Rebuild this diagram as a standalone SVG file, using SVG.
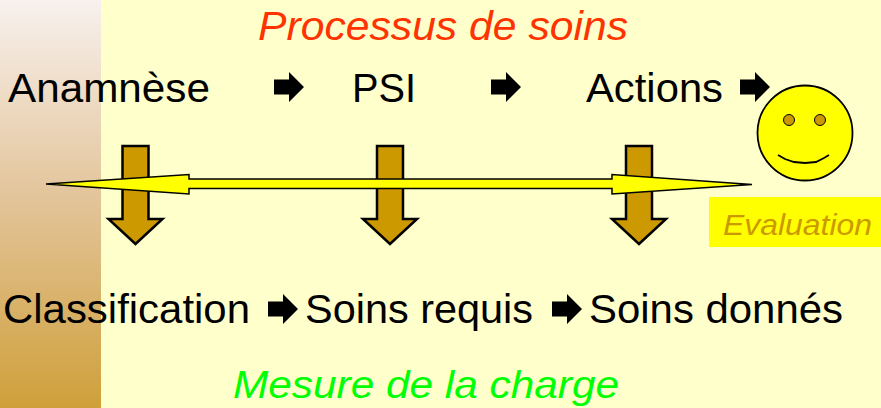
<svg xmlns="http://www.w3.org/2000/svg" width="881" height="408" viewBox="0 0 881 408">
  <defs>
    <linearGradient id="strip" x1="0" y1="0" x2="0" y2="1">
      <stop offset="0" stop-color="#F8F1EE"/>
      <stop offset="0.5" stop-color="#E2C397"/>
      <stop offset="1" stop-color="#CFA03A"/>
    </linearGradient>
    <polygon id="blk" points="0,-7.5 15,-7.5 15,-15 30,0 15,15 15,7.5 0,7.5"/>
    <polygon id="down" points="-13,146 13,146 13,219 27,219 0,244 -27,219 -13,219"/>
  </defs>
  <style>
    .t { font-family: "Liberation Sans", Arial, sans-serif; font-size: 41px; fill: #000; }
    .ti { font-family: "Liberation Sans", Arial, sans-serif; font-style: italic; }
    .down { fill: #CC9900; stroke: #000; stroke-width: 2.5; stroke-linejoin: miter; }
    .blk { fill: #000; }
  </style>
  <rect x="0" y="0" width="881" height="408" fill="#FFFFCC"/>
  <rect x="0" y="0" width="101" height="408" fill="url(#strip)"/>

  <g id="title">
    <text class="ti" x="258" y="40" font-size="40" fill="#FF3300" textLength="370" lengthAdjust="spacingAndGlyphs">Processus de soins</text>
  </g>
  <g id="anamnese"><text class="t" x="8" y="102" textLength="202" lengthAdjust="spacingAndGlyphs">Anamnèse</text></g>
  <g id="psi"><text class="t" x="352" y="102" textLength="64" lengthAdjust="spacingAndGlyphs">PSI</text></g>
  <g id="actions"><text class="t" x="586" y="102" textLength="137" lengthAdjust="spacingAndGlyphs">Actions</text></g>
  <g id="classification"><text class="t" x="3" y="323" textLength="247" lengthAdjust="spacingAndGlyphs">Classification</text></g>
  <g id="soins-requis"><text class="t" x="305" y="323" textLength="228" lengthAdjust="spacingAndGlyphs">Soins requis</text></g>
  <g id="soins-donnes"><text class="t" x="589" y="323" textLength="254" lengthAdjust="spacingAndGlyphs">Soins donnés</text></g>
  <g id="mesure">
    <text class="ti" x="233" y="398" font-size="38" fill="#00FF00" textLength="386" lengthAdjust="spacingAndGlyphs">Mesure de la charge</text>
  </g>

  <g id="connectors">
    <use href="#blk" class="blk" x="274" y="87"/>
    <use href="#blk" class="blk" x="491" y="87"/>
    <use href="#blk" class="blk" x="740" y="87"/>
    <use href="#blk" class="blk" x="268" y="309"/>
    <use href="#blk" class="blk" x="552" y="309"/>
    <use href="#down" class="down" x="135.5"/>
    <use href="#down" class="down" x="390"/>
    <use href="#down" class="down" x="639"/>
    <polygon points="46,184 189,174.5 189,179 612,179 612,174.5 752,184.5 612,194 612,188.5 189,188.5 189,194" fill="#FFFF00" stroke="#000" stroke-width="1.5" stroke-linejoin="miter"/>
  </g>

  <g id="smiley">
    <circle cx="805" cy="133" r="47.5" fill="#FFFF00" stroke="#000" stroke-width="1.8"/>
    <circle cx="789" cy="120" r="5.5" fill="#CC9900" stroke="#000" stroke-width="1"/>
    <circle cx="820" cy="120" r="5.5" fill="#CC9900" stroke="#000" stroke-width="1"/>
    <polyline points="778,155 785,159 794,162 805,163 816,162 824,158 829,155" fill="none" stroke="#000" stroke-width="1.8"/>
  </g>

  <g id="evaluation">
    <rect x="709" y="197" width="172" height="50" fill="#FFFF00"/>
    <text class="ti" x="723" y="235" font-size="30" fill="#CC9900" textLength="149" lengthAdjust="spacingAndGlyphs">Evaluation</text>
  </g>
</svg>
